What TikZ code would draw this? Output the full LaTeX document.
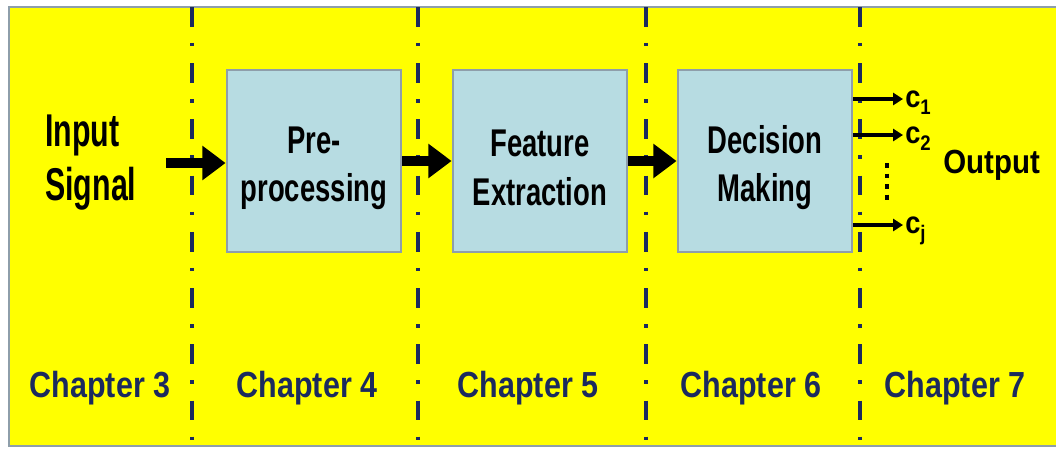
\documentclass[tikz,border=0pt]{standalone}
\usepackage{fontspec}
\usetikzlibrary{arrows.meta}
\newfontfamily\boxfont[FakeStretch=0.71]{Liberation Sans}
\newfontfamily\inpfont[FakeStretch=0.66]{Liberation Sans}
\newfontfamily\chapfont[FakeStretch=0.84]{Liberation Sans}
\newfontfamily\outfont[FakeStretch=0.88]{Liberation Sans}
\definecolor{chapblue}{HTML}{1B2A5E}
\definecolor{framegray}{HTML}{8E9EAA}
\definecolor{boxblue}{HTML}{B7DCE2}
\definecolor{bgyellow}{HTML}{FFFF00}
\newcommand{\csub}[1]{c\raisebox{-5.5pt}{\fontsize{15}{15}\selectfont #1}}
\newcommand{\topgap}{\rule{0pt}{29pt}}

\begin{document}
\begin{tikzpicture}[x=0.025cm,y=-0.025cm,
                block/.style={draw=framegray,line width=2pt,fill=boxblue,minimum width=4.35cm,minimum height=4.55cm,inner sep=0pt,align=center,font=\boxfont\bfseries\fontsize{27.5}{34.5}\selectfont},
                chap/.style={text=chapblue,anchor=base,font=\chapfont\bfseries\fontsize{25.8}{30}\selectfont},
                clab/.style={anchor=base west,inner sep=0pt,font=\outfont\bfseries\fontsize{22}{22}\selectfont},
                bigarrow/.style={line width=7pt,-{Triangle[length=16.5pt,width=23.5pt]}},
                outarrow/.style={line width=2.8pt,-{Triangle[length=7pt,width=8.5pt]}},
                sep/.style={chapblue,line width=2.6pt,dash pattern=on 14pt off 11.5pt on 2.5pt off 12pt}]
                \useasboundingbox (0,0) rectangle (1056,448);
                \draw[framegray,line width=2pt,fill=bgyellow] (9,7) rectangle (1070,446);
                \foreach \x in {192,418,646,860} \draw[sep] (\x,7) -- (\x,446);
                \node[block] (pre) at (314,161) {\topgap Pre-\\processing};
                \node[block] (feat) at (540,161) {\topgap Feature\\Extraction};
                \node[block] (dec) at (765,161) {\topgap Decision\\Making};
                \node[anchor=west,inner sep=0pt,align=left,font=\inpfont\bfseries\fontsize{32.7}{38.4}\selectfont] (insig) at (45,163) {Input\\Signal};
                \coordinate (instart) at (166,163);
                \draw[bigarrow] (instart) -- (instart -| pre.west);
                \draw[bigarrow] (pre.east) -- (feat.west);
                \draw[bigarrow] (feat.east) -- (dec.west);
                \coordinate (o1) at (903,99);
                \coordinate (o2) at (903,135);
                \coordinate (oj) at (903,225);
                \draw[outarrow] (dec.east |- o1) -- (o1);
                \draw[outarrow] (dec.east |- o2) -- (o2);
                \draw[outarrow] (dec.east |- oj) -- (oj);
                \node[clab] (c1) at (905,107) {\csub{1}};
                \node[clab] (c2) at (905,143) {\csub{2}};
                \node[clab] (cj) at (905,233) {\csub{j}};
                \draw[line width=3.5pt,dash pattern=on 3.5pt off 4pt] (887,163) -- (887,200);
                \node[anchor=base west,inner sep=0pt,font=\outfont\bfseries\fontsize{23.8}{28}\selectfont] (out) at (943,173) {Output};
                \foreach \x/\n in {100/3,307/4,528/5,751/6,955/7}
                    \node[chap] (ch\n) at (\x,397) {Chapter \n};
            \end{tikzpicture}
\end{document}
